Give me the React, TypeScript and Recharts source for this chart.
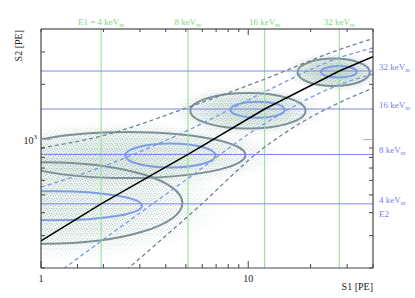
import { ComposedChart, XAxis, YAxis, Line, ReferenceLine, ReferenceArea } from 'recharts'

const FONT = '"Liberation Serif", "DejaVu Serif", serif'

// energy grid (keVnr): E1 on S1 (top), E2 on S2 (right)
const energies = [4, 8, 16, 32]
const s1AtEnergy = [1.95, 5.12, 12.0, 27.5]
const s2AtEnergy = [447, 830, 1467, 2362]

// axis ticks
const s1Ticks = [1, 1.5, 2, 3, 4, 5, 6, 7, 8, 9, 10, 20, 30, 40]
const s2Ticks = [200, 300, 400, 500, 600, 700, 800, 900, 1000, 2000, 3000]
const s1Labeled = [1, 10]

// mean S2 vs S1 (black)
const meanS1 = [1, 1.95, 5.12, 12.0, 27.5, 40]
const meanS2 = [281, 447, 830, 1467, 2362, 2825]

// band edges (dashed)
const bandS1 = [1, 1.95, 5.14, 11.7, 27.3, 40]
const innerUpperS2 = [551, 708, 1126, 1792, 2781, 3154]
const innerLowerS2 = [161, 280, 617, 1200, 1982, 2275]
const outerUpperS2 = [900, 1045, 1500, 2110, 3080, 3550]
const outerLowerS1 = [2.16, 5.88, 11.5, 18.9, 27.3, 40]
const outerLowerS2 = [164, 440, 877, 1277, 1581, 1910]

// contour extents per energy (outer = grey, inner = blue)
const outerS1Lo = [0.227, 0.708, 5.26, 17.3]
const outerS1Hi = [4.81, 9.7, 18.9, 38.6]
const outerS2Lo = [271, 617, 1148, 1957]
const outerS2Hi = [754, 1099, 1792, 2762]
const innerS1Lo = [0.443, 2.55, 8.21, 22.4]
const innerS1Hi = [3.07, 6.95, 15.0, 33.4]
const innerS2Lo = [364, 705, 1315, 2177]
const innerS2Hi = [524, 953, 1607, 2515]

const toPoints = (xs: number[], ys: number[]) => xs.map((s1, i) => ({ s1, s2: ys[i] }))

const meanData = toPoints(meanS1, meanS2)
const innerUpper = toPoints(bandS1, innerUpperS2)
const innerLower = toPoints(bandS1, innerLowerS2)
const outerUpper = toPoints(bandS1, outerUpperS2)
const outerLower = toPoints(outerLowerS1, outerLowerS2)

const GREEN = '#8fe08f'
const BLUE = '#8087e4'
const GREY_C = '#7d9097'
const BLUE_C = '#7f9ce2'
const cloudStrength = [0.35, 0.5, 0.65, 0.85]

const BottomTick = (p: any) => {
  const v = p.payload.value
  const major = v === 1 || v === 10
  return (
    <g>
      <line x1={p.x} x2={p.x} y1={p.y} y2={p.y - (major ? 7 : 4)} stroke="#444" />
      {s1Labeled.includes(v) && (
        <text x={p.x} y={p.y + 14} textAnchor="middle" fontSize={10} fontFamily={FONT} fill="#222">{v}</text>
      )}
    </g>
  )
}

const TopTick = (p: any) => {
  const v = p.payload.value
  if (v === 1.5) return <g />
  return <line x1={p.x} x2={p.x} y1={p.y} y2={p.y + (v === 10 ? 6 : 3)} stroke="#444" />
}

const LeftTick = (p: any) => {
  const v = p.payload.value
  const major = v === 1000
  return (
    <g>
      <line x1={p.x} x2={p.x + (major ? 10 : 4)} y1={p.y} y2={p.y} stroke={major ? '#aaa' : '#444'} />
      {major && (
        <text x={p.x - 4} y={p.y + 4} textAnchor="end" fontSize={10} fontFamily={FONT} fill="#222">
          10<tspan fontSize={7} dy={-5}>3</tspan>
        </text>
      )}
    </g>
  )
}

const RightTick = (p: any) => {
  const v = p.payload.value
  const major = v === 1000
  return <line x1={p.x} x2={p.x - (major ? 10 : 4)} y1={p.y} y2={p.y} stroke={major ? '#aaa' : '#444'} />
}

// soft, speckled cloud around each contour
const cloudShape = (i: number) => (p: any) => {
  const cx = p.x + p.width / 2
  const cy = p.y + p.height / 2
  const rx = (p.width / 2) * 1.35
  const ry = (p.height / 2) * 1.45
  const s = cloudStrength[i]
  return (
    <g clipPath={p.clipPath}>
      <defs>
        <radialGradient id={`cloudGrad${i}`}>
          <stop offset="0%" stopColor="#a6c6bb" stopOpacity={s * 0.8} />
          <stop offset="55%" stopColor="#adcac0" stopOpacity={s * 0.55} />
          <stop offset="75%" stopColor="#b8d0c8" stopOpacity={s * 0.25} />
          <stop offset="100%" stopColor="#c2d6cf" stopOpacity={0} />
        </radialGradient>
        <radialGradient id={`maskGrad${i}`}>
          <stop offset="0%" stopColor="#fff" stopOpacity={1} />
          <stop offset="70%" stopColor="#fff" stopOpacity={0.6} />
          <stop offset="100%" stopColor="#fff" stopOpacity={0} />
        </radialGradient>
        <mask id={`cloudMask${i}`}>
          <ellipse cx={cx} cy={cy} rx={rx} ry={ry} fill={`url(#maskGrad${i})`} />
        </mask>
        <pattern id={`dots${i}`} width={5} height={5} patternUnits="userSpaceOnUse">
          <rect x={0} y={0} width={1} height={1} fill="#8fa9a6" />
          <rect x={3} y={1} width={1} height={1} fill="#9bb8ac" />
          <rect x={1} y={3} width={1} height={1} fill="#93aeb0" />
          <rect x={4} y={3} width={1} height={1} fill="#a2bfb3" />
          <rect x={2} y={4} width={1} height={1} fill="#9ab3b0" />
        </pattern>
      </defs>
      <ellipse cx={cx} cy={cy} rx={rx} ry={ry} fill={`url(#cloudGrad${i})`} />
      <rect
        x={cx - rx}
        y={cy - ry}
        width={rx * 2}
        height={ry * 2}
        fill={`url(#dots${i})`}
        mask={`url(#cloudMask${i})`}
        opacity={0.55 + s * 0.3}
      />
    </g>
  )
}

const contourShape = (color: string) => (p: any) => (
  <ellipse
    clipPath={p.clipPath}
    cx={p.x + p.width / 2}
    cy={p.y + p.height / 2}
    rx={p.width / 2}
    ry={p.height / 2}
    fill="none"
    stroke={color}
    strokeWidth={2}
  />
)

const topLabel = (i: number) => (p: any) => {
  const vb = p.viewBox
  return (
    <text x={vb.x} y={vb.y - 4} textAnchor="middle" fontSize={9} fontFamily={FONT} fill="#79d979">
      {i === 0 ? 'E1 = ' : ''}
      {energies[i]} keV<tspan fontSize={6} dy={2}>nr</tspan>
    </text>
  )
}

const rightLabel = (i: number) => (p: any) => {
  const vb = p.viewBox
  const x = vb.x + vb.width + 6
  return (
    <g>
      <text x={x} y={vb.y - 1} fontSize={9} fontFamily={FONT} fill="#7b80e2">
        {energies[i]} keV<tspan fontSize={6} dy={2}>nr</tspan>
      </text>
      {i === 0 && (
        <text x={x} y={vb.y + 13} fontSize={9} fontFamily={FONT} fill="#7b80e2">E2</text>
      )}
    </g>
  )
}

export default function App() {
  return (
    <div style={{ position: 'absolute', left: 0, top: 0, background: '#fff' }}>
      <ComposedChart width={415} height={298} margin={{ top: 28, right: 41, bottom: 29, left: 40 }}>
        <XAxis
          xAxisId={0}
          dataKey="s1"
          type="number"
          scale="log"
          domain={[1, 40]}
          allowDataOverflow
          ticks={s1Ticks}
          interval={0}
          height={1}
          tickSize={0}
          tickMargin={0}
          tickLine={false}
          tick={<BottomTick />}
          axisLine={{ stroke: '#444' }}
          label={(p: any) => (
            <text x={p.viewBox.x + p.viewBox.width} y={p.viewBox.y + 22} textAnchor="end" fontSize={10} fontFamily={FONT} fill="#222">
              S1 [PE]
            </text>
          )}
        />
        <XAxis
          xAxisId="top"
          orientation="top"
          dataKey="s1"
          type="number"
          scale="log"
          domain={[1, 40]}
          allowDataOverflow
          ticks={s1Ticks}
          interval={0}
          height={1}
          tickSize={0}
          tickMargin={0}
          tickLine={false}
          tick={<TopTick />}
          axisLine={{ stroke: '#222' }}
        />
        <YAxis
          yAxisId={0}
          type="number"
          scale="log"
          domain={[200, 4000]}
          allowDataOverflow
          ticks={s2Ticks}
          interval={0}
          width={1}
          tickSize={0}
          tickMargin={0}
          tickLine={false}
          tick={<LeftTick />}
          axisLine={{ stroke: '#222' }}
          label={(p: any) => (
            <text
              x={p.viewBox.x - 18}
              y={p.viewBox.y + 1}
              transform={`rotate(-90 ${p.viewBox.x - 18} ${p.viewBox.y + 1})`}
              textAnchor="end"
              fontSize={10}
              fontFamily={FONT}
              fill="#222"
            >
              S2 [PE]
            </text>
          )}
        />
        <YAxis
          yAxisId="right"
          orientation="right"
          type="number"
          scale="log"
          domain={[200, 4000]}
          allowDataOverflow
          ticks={s2Ticks}
          interval={0}
          width={1}
          tickSize={0}
          tickMargin={0}
          tickLine={false}
          tick={<RightTick />}
          axisLine={{ stroke: '#222' }}
        />

        {energies.map((e, i) => (
          <ReferenceArea
            key={`cloud-${e}`}
            x1={outerS1Lo[i]}
            x2={outerS1Hi[i]}
            y1={outerS2Lo[i]}
            y2={outerS2Hi[i]}
            ifOverflow="hidden"
            shape={cloudShape(i)}
          />
        ))}

        {energies.map((e, i) => (
          <ReferenceLine key={`e1-${e}`} x={s1AtEnergy[i]} stroke={GREEN} strokeWidth={1} label={topLabel(i)} />
        ))}
        {energies.map((e, i) => (
          <ReferenceLine key={`e2-${e}`} y={s2AtEnergy[i]} stroke={BLUE} strokeWidth={1} label={rightLabel(i)} />
        ))}

        {energies.map((e, i) => (
          <ReferenceArea
            key={`outer-${e}`}
            x1={outerS1Lo[i]}
            x2={outerS1Hi[i]}
            y1={outerS2Lo[i]}
            y2={outerS2Hi[i]}
            ifOverflow="hidden"
            shape={contourShape(GREY_C)}
          />
        ))}
        {energies.map((e, i) => (
          <ReferenceArea
            key={`inner-${e}`}
            x1={innerS1Lo[i]}
            x2={innerS1Hi[i]}
            y1={innerS2Lo[i]}
            y2={innerS2Hi[i]}
            ifOverflow="hidden"
            shape={contourShape(BLUE_C)}
          />
        ))}

        <Line data={outerUpper} dataKey="s2" type="monotone" stroke="#6f8391" strokeWidth={1.3} strokeDasharray="4 3" dot={false} isAnimationActive={false} />
        <Line data={outerLower} dataKey="s2" type="monotone" stroke="#6f8391" strokeWidth={1.3} strokeDasharray="4 3" dot={false} isAnimationActive={false} />
        <Line data={innerUpper} dataKey="s2" type="monotone" stroke="#7b9ae0" strokeWidth={1.3} strokeDasharray="4 3" dot={false} isAnimationActive={false} />
        <Line data={innerLower} dataKey="s2" type="monotone" stroke="#7b9ae0" strokeWidth={1.3} strokeDasharray="4 3" dot={false} isAnimationActive={false} />
        <Line data={meanData} dataKey="s2" type="linear" stroke="#000" strokeWidth={1.5} dot={false} isAnimationActive={false} />
      </ComposedChart>
    </div>
  )
}
